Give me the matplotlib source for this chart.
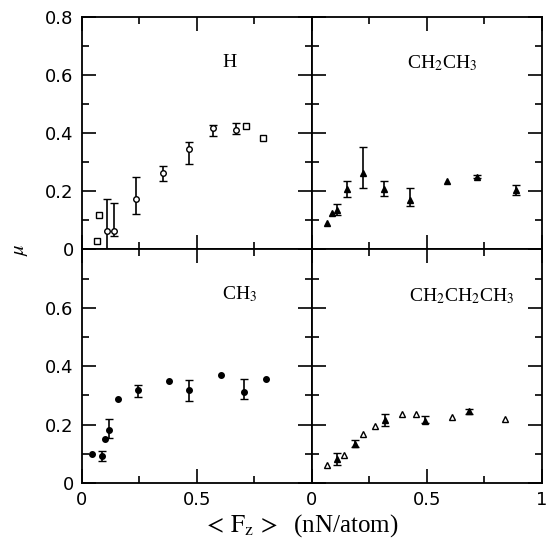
import numpy as np
import matplotlib
matplotlib.use('Agg')
from matplotlib import pyplot as plt
from matplotlib.ticker import MultipleLocator, FixedLocator

plt.rcParams['font.family'] = 'DejaVu Sans'
plt.rcParams['mathtext.fontset'] = 'stix'

# H panel: points with error bars (open circles) and without (open squares)
h_x_err = [0.11, 0.14, 0.235, 0.354, 0.467, 0.571, 0.67]
h_y_err = [0.062, 0.062, 0.175, 0.264, 0.345, 0.418, 0.412]
h_lo = [0.0, 0.045, 0.123, 0.235, 0.295, 0.389, 0.399]
h_hi = [0.175, 0.16, 0.25, 0.287, 0.37, 0.429, 0.434]
h_x_pt = [0.064, 0.075, 0.713, 0.786]
h_y_pt = [0.030, 0.12, 0.425, 0.382]

# CH2CH3 panel
e_x_err = [0.107, 0.153, 0.22, 0.313, 0.426, 0.719, 0.887]
e_y_err = [0.137, 0.207, 0.264, 0.207, 0.172, 0.25, 0.205]
e_lo = [0.12, 0.18, 0.21, 0.183, 0.149, 0.245, 0.188]
e_hi = [0.157, 0.235, 0.351, 0.235, 0.212, 0.255, 0.222]
e_x_pt = [0.067, 0.086, 0.588]
e_y_pt = [0.091, 0.124, 0.235]

# CH3 panel
m_x_err = [0.088, 0.119, 0.245, 0.467, 0.706]
m_y_err = [0.093, 0.18, 0.319, 0.319, 0.312]
m_lo = [0.077, 0.154, 0.293, 0.281, 0.287]
m_hi = [0.108, 0.218, 0.335, 0.353, 0.356]
m_x_pt = [0.042, 0.101, 0.158, 0.377, 0.604, 0.799]
m_y_pt = [0.100, 0.151, 0.289, 0.35, 0.37, 0.358]

# CH2CH2CH3 panel
p_x_err = [0.107, 0.187, 0.317, 0.491, 0.683]
p_y_err = [0.082, 0.135, 0.215, 0.214, 0.245]
p_lo = [0.062, 0.123, 0.194, 0.206, 0.237]
p_hi = [0.103, 0.147, 0.235, 0.231, 0.253]
p_x_pt = [0.067, 0.139, 0.223, 0.274, 0.39, 0.451, 0.61, 0.84]
p_y_pt = [0.06, 0.097, 0.168, 0.194, 0.237, 0.237, 0.227, 0.22]

x_ticks = [0, 0.5, 1]
y_ticks = [0, 0.2, 0.4, 0.6, 0.8]

fig = plt.figure(figsize=(5.48, 5.58), dpi=100)
left, mid, right = 0.1496, 0.5693, 0.989
bot, ymid, top = 0.1344, 0.5529, 0.9695
w1, w2 = mid - left, right - mid
ax_h = fig.add_axes([left, ymid, w1, top - ymid])
ax_e = fig.add_axes([mid, ymid, w2, top - ymid])
ax_m = fig.add_axes([left, bot, w1, ymid - bot])
ax_p = fig.add_axes([mid, bot, w2, ymid - bot])


def panel(ax, xe, ye, lo, hi, xp, yp, mk_err, fill_err, mk_pt, fill_pt, label, lx, ly):
    ye = np.array(ye)
    yerr = [ye - np.array(lo), np.array(hi) - ye]
    ax.errorbar(xe, ye, yerr=yerr, fmt=mk_err, color='black', ms=4,
                mfc=fill_err, mec='black', mew=1.0, elinewidth=1.2,
                capsize=3, capthick=1.2)
    ax.plot(xp, yp, mk_pt, color='black', ms=4, mfc=fill_pt, mec='black', mew=1.0)
    ax.text(lx, ly, label, transform=ax.transAxes, ha='center', va='center',
            fontsize=14, family='Liberation Serif')
    ax.set_xlim(0, 1)
    ax.set_ylim(0, 0.8)
    ax.xaxis.set_major_locator(FixedLocator([0, 0.5, 1]))
    ax.xaxis.set_minor_locator(MultipleLocator(0.25))
    ax.yaxis.set_major_locator(MultipleLocator(0.2))
    ax.yaxis.set_minor_locator(MultipleLocator(0.1))
    ax.tick_params(which='both', direction='in', top=True, right=True,
                   labelsize=13, width=1.2, pad=6)
    ax.tick_params(which='major', length=10)
    ax.tick_params(which='minor', length=5)
    for s in ax.spines.values():
        s.set_linewidth(1.3)


panel(ax_h, h_x_err, h_y_err, h_lo, h_hi, h_x_pt, h_y_pt,
      'o', 'white', 's', 'white', 'H', 0.64, 0.805)
panel(ax_e, e_x_err, e_y_err, e_lo, e_hi, e_x_pt, e_y_pt,
      '^', 'black', '^', 'black', r'CH$_2$CH$_3$', 0.564, 0.80)
panel(ax_m, m_x_err, m_y_err, m_lo, m_hi, m_x_pt, m_y_pt,
      'o', 'black', 'o', 'black', r'CH$_3$', 0.687, 0.807)
panel(ax_p, p_x_err, p_y_err, p_lo, p_hi, p_x_pt, p_y_pt,
      '^', 'black', '^', 'white', r'CH$_2$CH$_2$CH$_3$', 0.65, 0.80)

fmt = lambda v: '0' if v == 0 else ('1' if v == 1 else f'{v:g}')

ax_h.set_yticks(y_ticks)
ax_h.set_yticklabels([fmt(v) for v in y_ticks])
ax_m.set_yticks(y_ticks)
ax_m.set_yticklabels([fmt(v) for v in y_ticks[:-1]] + [''])
for ax in (ax_h, ax_e):
    ax.set_xticklabels([])
for ax in (ax_e, ax_p):
    ax.set_yticklabels([])
ax_m.set_xticklabels(['0', '0.5', ''])
ax_p.set_xticklabels([fmt(v) for v in x_ticks])

fig.text(0.036, 0.553, r'$\mu$', rotation=90, ha='center', va='center', fontsize=15)
fig.text(0.548, 0.058, r'$<\,\mathrm{F_z}\,>$  (nN/atom)', ha='center', va='center',
         fontsize=18, family='Liberation Serif')

fig.savefig('out.png', dpi=100)
